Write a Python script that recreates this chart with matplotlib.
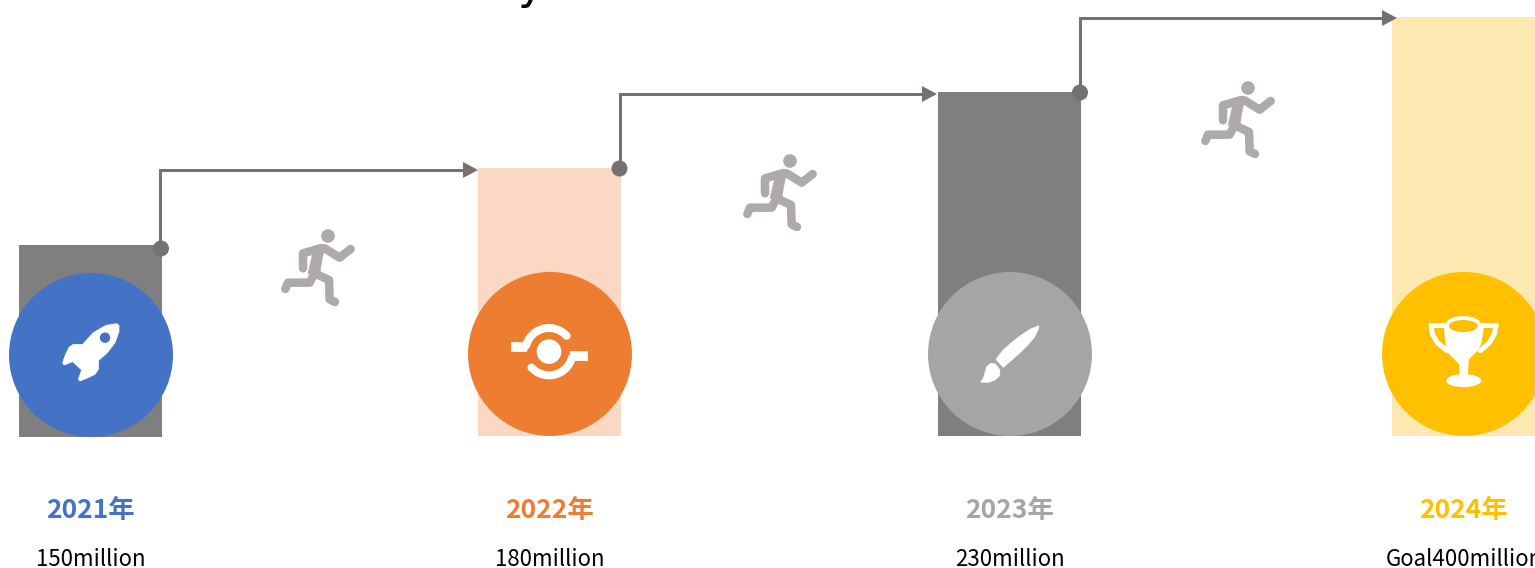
import numpy as np
import matplotlib
matplotlib.use("Agg")
import matplotlib.pyplot as plt
from matplotlib.patches import Circle, Ellipse, Polygon

plt.rcParams['font.family'] = ['Noto Sans CJK JP', 'DejaVu Sans']

years = ['2021年', '2022年', '2023年', '2024年']
amounts = ['150million', '180million', '230million', 'Goal400million']
bar_heights = [192, 268, 344, 419]   # drawn heights, not to scale with the amounts
bar_left = [19, 478, 938, 1392]
bar_base = [437, 436, 436, 436]
circle_x = [91, 550, 1010, 1464]
circle_y = [355, 354, 354, 354]
runner_head = [(328, 236), (790, 161), (1248, 88)]
dot_xy = [(161, 248.5), (619.5, 168.5), (1080, 92.5)]
line_x = [160, 619.5, 1080]
line_y = [170, 94, 18]
arrow_tip = [478, 937, 1397]

bar_colors = ['#7f7f7f', '#fad8c3', '#7f7f7f', '#fee8b1']
main_colors = ['#4472c4', '#ed7d31', '#a5a5a5', '#ffc000']
line_color = '#767171'
runner_color = '#aeaaaa'
bar_width = 143
px = 0.72  # one pixel in points at dpi 100

fig = plt.figure(figsize=(15.35, 5.68), dpi=100)
ax = fig.add_axes([0, 0, 1, 1])
ax.set_xlim(0, 1535)
ax.set_ylim(568, 0)
ax.axis('off')


def shape(points, origin, z=4, color='white'):
    pts = [(origin[0] + p[0] / 3, origin[1] + p[1] / 3) for p in points]
    ax.add_patch(Polygon(pts, closed=True, fc=color, ec=color, lw=0.5, zorder=z))


def stroke(points, origin, width, color='white', z=4, cap='round'):
    xs = [origin[0] + p[0] / 3 for p in points]
    ys = [origin[1] + p[1] / 3 for p in points]
    ax.plot(xs, ys, color=color, lw=width * px, zorder=z,
            solid_capstyle=cap, solid_joinstyle='round')


def runner(hx, hy):
    o = (hx - 985 / 3, hy - 48 / 3)
    ax.add_patch(Circle((hx, hy), 6.8, fc=runner_color, ec='none', zorder=3))
    stroke([(965, 84), (910, 100), (910, 145)], o, 8.5, runner_color, 3)
    stroke([(975, 85), (1020, 113), (1053, 87)], o, 8.5, runner_color, 3)
    shape([(945, 78), (975, 78), (965, 130), (960, 165), (925, 160)], o, 3, runner_color)
    stroke([(942, 165), (930, 188), (865, 188), (857, 207)], o, 8.5, runner_color, 3)
    stroke([(945, 160), (988, 180), (990, 238), (1006, 246)], o, 8.5, runner_color, 3)


def rocket():
    o = (0, 220)
    shape([(350, 311), (357, 316), (357, 335), (345, 368), (322, 398), (296, 421), (295, 448),
           (285, 463), (262, 474), (240, 483), (235, 478), (245, 450), (218, 425),
           (192, 435), (188, 428), (196, 405), (207, 382), (220, 373), (248, 373),
           (280, 338), (318, 316)], o)
    ax.add_patch(Circle((315 / 3, 220 + 353 / 3), 5.2, fc=main_colors[0], ec='none', zorder=5))


def cycle():
    o = (460, 260)
    ax.add_patch(Circle((460 + 267 / 3, 260 + 275 / 3), 12.3, fc='white', ec='none', zorder=4))
    ang = np.radians(np.linspace(42, 165, 30))
    stroke(list(zip(267 + 71 * np.cos(ang), 275 - 71 * np.sin(ang))), o, 8)
    stroke(list(zip(267 - 71 * np.cos(ang), 275 + 71 * np.sin(ang))), o, 8)
    shape([(154, 247), (180, 247), (205, 250), (200, 275), (154, 275)], o)
    shape([(383, 275), (355, 275), (330, 275), (335, 302), (383, 302)], o)


def brush():
    o = (920, 260)
    shape([(357, 197), (354, 210), (343, 232), (325, 253), (300, 278), (272, 303),
           (250, 322), (228, 298), (248, 272), (272, 250), (300, 228), (330, 208)], o)
    shape([(182, 366), (190, 355), (195, 338), (200, 320), (212, 310), (226, 312), (240, 330),
           (238, 348), (225, 360), (205, 367)], o)


def trophy():
    o = (1375, 260)
    stroke([(168, 196), (172, 222), (187, 248), (216, 272)], o, 5)
    stroke([(362, 196), (358, 222), (343, 248), (316, 272)], o, 5)
    stroke([(168, 196), (212, 196)], o, 5)
    stroke([(362, 196), (320, 196)], o, 5)
    shape([(208, 205), (325, 205), (318, 250), (310, 268), (280, 298), (278, 345),
           (255, 345), (253, 312), (222, 280), (212, 250)], o)
    ax.add_patch(Ellipse((1375 + 266 / 3, 260 + 362 / 3), 35, 13, fc='white', ec='none', zorder=4))
    ax.add_patch(Ellipse((1375 + 265 / 3, 260 + 198 / 3), 37, 20, fc='white', ec='none', zorder=4))
    ax.add_patch(Ellipse((1375 + 265 / 3, 260 + 198 / 3), 29, 12, fc=main_colors[3], ec='none', zorder=5))


# bars grow up from the base line, y axis runs downwards
for i in range(4):
    ax.bar(bar_left[i], -bar_heights[i], width=bar_width, bottom=bar_base[i], align='edge',
           color=bar_colors[i], zorder=1)
    ax.add_patch(Circle((circle_x[i], circle_y[i]), 82, fc=main_colors[i], ec='none', zorder=2))
    ax.text(circle_x[i] - 1, 511, years[i], color=main_colors[i], fontsize=19, fontweight='bold',
            ha='center', va='center', zorder=5)
    ax.text(circle_x[i], 559, amounts[i], color='black', fontsize=16,
            ha='center', va='center', zorder=5)

# connectors from the top right corner of a bar to the next bar
for i in range(3):
    ax.plot([line_x[i], line_x[i], arrow_tip[i] - 14], [dot_xy[i][1], line_y[i], line_y[i]],
            color=line_color, lw=3 * px, zorder=3, solid_joinstyle='miter')
    ax.add_patch(Polygon([(arrow_tip[i], line_y[i]), (arrow_tip[i] - 15, line_y[i] - 8),
                          (arrow_tip[i] - 15, line_y[i] + 8)], fc=line_color, ec='none', zorder=3))
    ax.add_patch(Circle(dot_xy[i], 8, fc=line_color, ec='none', zorder=3))

for hx, hy in runner_head:
    runner(hx, hy)

rocket()
cycle()
brush()
trophy()

# only the tail of the title's "y" is left in the frame
ax.text(531, -1, 'y', color='black', fontsize=32, family='DejaVu Sans', ha='center', va='baseline',
        zorder=5)

fig.savefig('out.png', dpi=100, facecolor='white')
